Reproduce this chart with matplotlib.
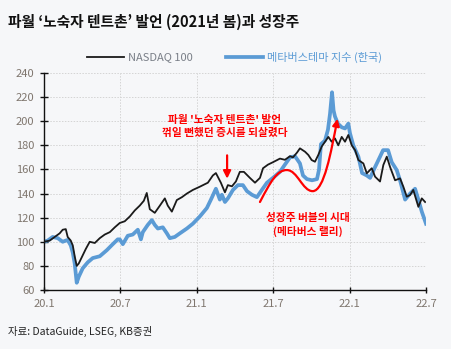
import matplotlib
matplotlib.use('Agg')
from matplotlib import pyplot as plt
from matplotlib.path import Path
from matplotlib.patches import FancyArrowPatch

plt.rcParams['font.family'] = ['Noto Sans CJK KR', 'DejaVu Sans']

# months since Jan 2020, index level (Jan 2020 = 100)
nasdaq_m = [0, 0.45, 0.84, 1.23, 1.47, 1.71, 1.86, 2.10, 2.26, 2.41, 2.57, 2.73, 2.96, 3.28, 3.59,
            3.99, 4.38, 4.77, 5.17, 5.56, 5.95, 6.34, 6.74, 7.13, 7.52, 7.84, 8.07, 8.31, 8.70,
            9.10, 9.49, 9.72, 10.04, 10.43, 10.83, 11.22, 11.69, 12.24, 12.87, 13.26, 13.50,
            13.89, 14.21, 14.44, 14.76, 15.07, 15.38, 15.70, 16.17, 16.57, 16.96, 17.20, 17.59,
            17.98, 18.53, 18.92, 19.32, 19.55, 19.87, 20.10, 20.50, 20.76, 21.02, 21.28, 21.54,
            21.81, 22.07, 22.33, 22.59, 22.85, 23.11, 23.38, 23.64, 23.90, 24.17, 24.43, 24.69,
            25.08, 25.35, 25.74, 26.00, 26.39, 26.65, 26.92, 27.18, 27.57, 27.96, 28.22, 28.49,
            28.75, 29.00, 29.40, 29.67, 29.93]
nasdaq = [100, 101, 104, 107, 110, 110.5, 104, 101, 97, 88, 80, 82, 87, 94, 100,
          99, 103, 106, 108, 112, 115.6, 117, 121, 126, 130, 134, 140.5, 127, 124,
          130, 136, 130, 125, 134.6, 137, 140, 143, 145.7, 149, 155, 157,
          149, 141, 147, 146, 150, 158, 158, 153, 149, 153, 161, 164,
          166, 169, 168, 171, 170, 174, 177.5, 174.7, 172, 167.8, 166.4, 172,
          179, 183, 187, 183, 185.8, 180, 187, 183, 188.6, 180, 176, 167.8,
          165, 156.8, 161, 154, 150, 163.7, 170.6, 162, 151, 152.6, 145.7, 137.4,
          138.8, 143, 129, 136, 133]

meta_m = [0, 0.29, 0.68, 1.08, 1.47, 1.71, 1.86, 2.10, 2.26, 2.41, 2.57, 2.73, 3.04, 3.44, 3.83,
          4.38, 4.93, 5.40, 5.79, 5.95, 6.19, 6.58, 6.97, 7.37, 7.61, 7.76, 8.15, 8.47, 8.70,
          8.94, 9.33, 9.65, 9.88, 10.27, 10.67, 11.22, 11.69, 12.24, 12.79, 13.11, 13.50, 13.81,
          13.97, 14.21, 14.44, 14.84, 15.23, 15.62, 15.94, 16.33, 16.72, 17.11, 17.51, 17.98,
          18.53, 18.92, 19.32, 19.71, 20.10, 20.34, 20.65, 21.05, 21.44, 21.60, 21.75, 22.07,
          22.30, 22.46, 22.62, 22.74, 22.85, 23.08, 23.38, 23.64, 23.90, 24.03, 24.29, 24.69,
          24.98, 25.35, 25.61, 26.00, 26.39, 26.63, 27.02, 27.31, 27.70, 27.96, 28.36, 28.75,
          29.14, 29.40, 29.67, 30.0]
meta = [100, 101, 104, 103, 100, 101, 101.5, 97, 91, 82, 66, 71, 78, 83, 86.5,
        88, 93, 98, 102, 102, 98, 105, 106, 110, 102, 108, 114, 118, 114,
        111, 112, 107, 103, 104, 107, 111, 115, 121, 128, 135, 144, 135,
        139, 133, 136, 143, 147, 147, 142, 139, 137, 143, 149, 153,
        158, 164, 170, 171, 165, 155, 152, 151, 152, 160, 181, 184,
        193, 206, 224, 209, 204, 198, 195, 194, 198, 190, 180, 170.6,
        157, 155, 153, 162, 170.6, 176, 176, 166, 159.5, 151, 135, 140,
        144, 135, 125, 115]

x_ticks = [0, 6, 12, 18, 24, 30]
x_labels = ['20.1', '20.7', '21.1', '21.7', '22.1', '22.7']
y_ticks = list(range(60, 241, 20))

BG = '#f6f7f9'
BLUE = '#5b9bd5'
RED = '#ff0000'
TICK_C = '#7f766e'

fig = plt.figure(figsize=(4.51, 3.49), dpi=100, facecolor=BG)
ax = fig.add_axes([44 / 451, 1 - 290 / 349, 382 / 451, 217 / 349])
ax.set_facecolor(BG)

ax.plot(meta_m, meta, color=BLUE, lw=2.7, label='메타버스테마 지수 (한국)', zorder=2)
ax.plot(nasdaq_m, nasdaq, color='#1a1a1a', lw=1.3, label='NASDAQ 100', zorder=3)

ax.set_xlim(0, 30)
ax.set_ylim(60, 240)
ax.set_xticks(x_ticks)
ax.set_xticklabels(x_labels)
ax.set_yticks(y_ticks)
ax.grid(True, color='#d4d4d4', ls=(0, (1.5, 1.5)), lw=0.7)
ax.set_axisbelow(True)
for s in ['top', 'right']:
    ax.spines[s].set_visible(False)
for s in ['left', 'bottom']:
    ax.spines[s].set_color('#111111')
    ax.spines[s].set_linewidth(1.0)
ax.tick_params(axis='y', direction='inout', length=6, width=1, colors='#111111',
               labelcolor=TICK_C, labelsize=8, pad=4)
ax.tick_params(axis='x', direction='inout', length=5, width=1, colors='#111111',
               labelcolor=TICK_C, labelsize=8, pad=4)

# legend
h, l = ax.get_legend_handles_labels()
leg = fig.legend([h[1], h[0]], [l[1], l[0]], loc='center left', bbox_to_anchor=(87 / 451, 1 - 57 / 349),
                 ncol=2, frameon=False, fontsize=8, handlelength=3.3, handletextpad=0.4,
                 columnspacing=3.0, borderpad=0, borderaxespad=0)
leg.get_texts()[0].set_color('#7a7f88')
leg.get_texts()[1].set_color(BLUE)

# annotations
ax.text(14.2, 195.6, "파월 '노숙자 텐트촌' 발언\n꺾일 뻔했던 증시를 되살렸다", color=RED,
        fontsize=7.7, fontweight='bold', ha='center', va='center', linespacing=1.3, zorder=5)
ax.annotate('', xy=(14.38, 150), xytext=(14.38, 174),
            arrowprops=dict(arrowstyle='-|>', color=RED, lw=1.6, mutation_scale=11))
ax.text(20.75, 113.9, "성장주 버블의 시대\n(메타버스 랠리)", color=RED,
        fontsize=7.7, fontweight='bold', ha='center', va='center', linespacing=1.3, zorder=5)

curve = Path([(16.96, 133), (17.8, 150), (18.3, 159.5), (19.07, 159.5),
              (19.9, 159.5), (20.3, 142), (21.1, 142),
              (22.0, 142), (22.55, 175), (23.05, 202)],
             [Path.MOVETO, Path.CURVE4, Path.CURVE4, Path.CURVE4,
              Path.CURVE4, Path.CURVE4, Path.CURVE4,
              Path.CURVE4, Path.CURVE4, Path.CURVE4])
ax.add_patch(FancyArrowPatch(path=curve, arrowstyle='-|>', color=RED, lw=1.6,
                             mutation_scale=10, transform=ax.transData, zorder=4))

fig.text(8 / 451, 1 - 22 / 349, "파월 ‘노숙자 텐트촌’ 발언 (2021년 봄)과 성장주", fontsize=10.6,
         fontweight='bold', color='#111111', va='center', ha='left')
fig.text(8 / 451, 1 - 331 / 349, "자료: DataGuide, LSEG, KB증권", fontsize=7.5,
         color='#222222', va='center', ha='left')

fig.savefig('out.png', dpi=100, facecolor=BG)
